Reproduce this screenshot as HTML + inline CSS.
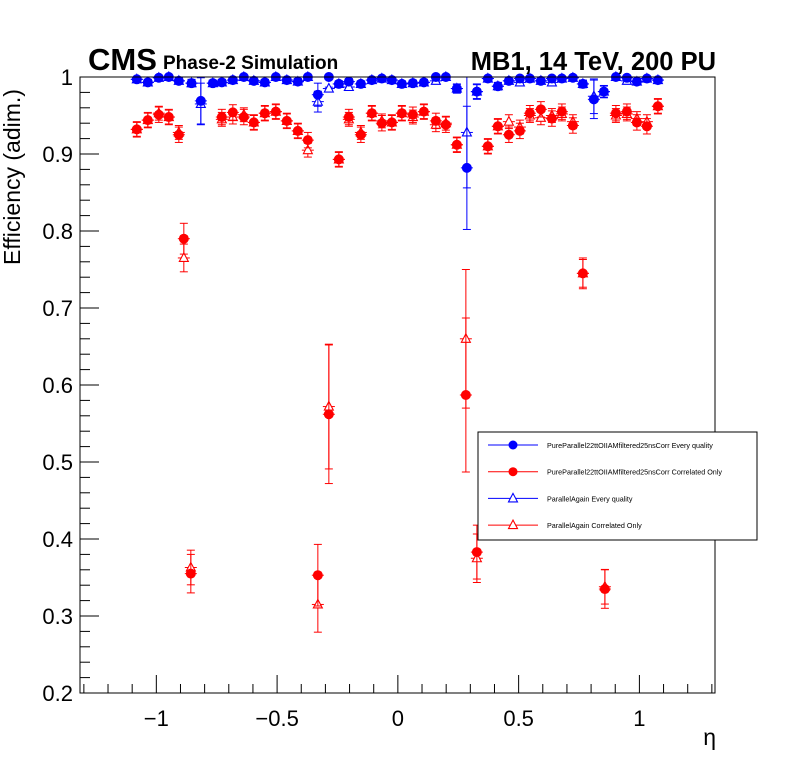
<!DOCTYPE html>
<html><head><meta charset="utf-8"><style>
html,body{margin:0;padding:0;background:#fff;}
svg{display:block;font-family:"Liberation Sans",Arial,sans-serif;}
</style></head><body>
<svg id="c" width="796" height="772" viewBox="0 0 796 772">
<rect x="0" y="0" width="796" height="772" fill="#fff"/>
<g id="grid"></g>
<g id="marks"></g>
<rect x="80" y="77" width="635" height="616" fill="none" stroke="#000" stroke-width="1"/>
<text x="88" y="70" font-size="31" font-weight="bold">CMS</text>
<text x="163" y="69" font-size="19" font-weight="bold">Phase-2 Simulation</text>
<text x="716" y="70" font-size="25.5" font-weight="bold" text-anchor="end">MB1, 14 TeV, 200 PU</text>
<text transform="translate(20,265) rotate(-90)" font-size="23">Efficiency (adim.)</text>
<text x="716" y="745" font-size="23" text-anchor="end">η</text>
<g>
<rect x="478" y="432" width="279" height="108" fill="#fff" stroke="#000" stroke-width="1"/>
<g id="leg"></g>
</g>
</svg>
<script>
const X0=80,X1=715,Y0=693,Y1=77,XMIN=-1.316,XMAX=1.313,YMIN=0.2,YMAX=1.0;
function sx(v){return X0+(v-XMIN)/(XMAX-XMIN)*(X1-X0);}
function sy(v){return Y0-(v-YMIN)/(YMAX-YMIN)*(Y0-Y1);}
function px(p){return (p-398)/241.5;}
const blueEtaPx=[137,148,159,169,179,191.7,201,213,222,233,244,254,265,276,287,298,308,318,329,339,349,361,372,382,392,402,413,424,436,446,457,467,477,488,498,509,520,530,541,552,562,573,583,594,604,616,627,637,647,658];
const blueEta=blueEtaPx.map(px);
const blueVal=[0.997,0.993,0.999,1.0,0.995,0.992,0.969,0.992,0.993,0.996,1.0,0.995,0.993,1.0,0.996,0.994,1.0,0.977,1.0,0.991,0.994,0.991,0.996,0.998,0.996,0.991,0.992,0.993,1.0,1.0,0.985,0.882,0.981,0.998,0.988,0.995,0.998,0.998,0.995,0.998,0.998,0.999,0.991,0.971,0.981,1.0,0.999,0.994,0.998,0.996];
const blueErr=[0.003,0.004,0.002,0.002,0.004,0.005,0.03,0.004,0.004,0.003,0.002,0.003,0.004,0.002,0.003,0.004,0.002,0.015,0.002,0.004,0.004,0.004,0.003,0.002,0.003,0.004,0.004,0.004,0.002,0.002,0.006,0.08,0.01,0.002,0.005,0.003,0.002,0.002,0.003,0.002,0.002,0.002,0.005,0.025,0.008,0.002,0.002,0.004,0.002,0.003];
const blueOpen=[0.997,0.993,0.999,1.0,0.995,0.992,0.965,0.992,0.993,0.996,1.0,0.995,0.993,1.0,0.996,0.994,1.0,0.968,0.985,0.991,0.987,0.991,0.996,0.998,0.996,0.991,0.992,0.993,0.995,1.0,0.985,0.928,0.981,0.998,0.988,0.995,0.993,0.998,0.995,0.993,0.998,0.999,0.991,0.975,0.981,1.0,0.995,0.994,0.998,0.996];
const redEtaPx=[137,148,159,169,179,184,191,222,233,244,254,265,276,287,298,308,318,329,339,349,361,372,382,392,402,413,424,436,446,457,466,477,488,498,509,520,530,541,552,562,573,583,605,616,627,637,647,658];
const redEta=redEtaPx.map(px);
const redVal=[0.932,0.944,0.951,0.948,0.925,0.790,0.355,0.948,0.954,0.948,0.941,0.953,0.955,0.943,0.930,0.918,0.353,0.562,0.893,0.948,0.925,0.953,0.940,0.941,0.953,0.951,0.955,0.943,0.938,0.912,0.587,0.383,0.910,0.936,0.925,0.930,0.953,0.958,0.946,0.955,0.937,0.745,0.335,0.953,0.955,0.941,0.936,0.962];
const redErr=[0.01,0.01,0.01,0.01,0.01,0.02,0.025,0.01,0.01,0.01,0.01,0.01,0.01,0.01,0.01,0.01,0.04,0.09,0.01,0.01,0.01,0.01,0.01,0.01,0.01,0.01,0.01,0.01,0.01,0.01,0.1,0.035,0.01,0.01,0.01,0.01,0.01,0.01,0.01,0.01,0.01,0.02,0.025,0.01,0.01,0.01,0.01,0.01];
const redOpen=[0.932,0.944,0.953,0.948,0.928,0.765,0.363,0.945,0.948,0.951,0.941,0.953,0.955,0.943,0.930,0.905,0.315,0.572,0.893,0.945,0.928,0.953,0.943,0.941,0.953,0.948,0.955,0.938,0.940,0.912,0.660,0.375,0.910,0.936,0.942,0.935,0.950,0.947,0.950,0.952,0.942,0.745,0.338,0.950,0.952,0.946,0.942,0.962];
const yTicks=[0.2,0.3,0.4,0.5,0.6,0.7,0.8,0.9,1];
const yTickLabels=["0.2","0.3","0.4","0.5","0.6","0.7","0.8","0.9","1"];
const xTicks=[-1,-0.5,0,0.5,1];
const xTickLabels=["\u22121","\u22120.5","0","0.5","1"];
const NS="http://www.w3.org/2000/svg";
function mk(tag,attrs,parent){const e=document.createElementNS(NS,tag);for(const k in attrs)e.setAttribute(k,attrs[k]);parent.appendChild(e);return e;}
const grid=document.getElementById('grid'),marks=document.getElementById('marks');
for(let v=0.2;v<=1.0001;v+=0.02){const y=sy(v);const major=Math.abs(v*10-Math.round(v*10))<1e-6;
 const t=mk('line',{x1:X0,x2:X0+(major?19:10),y1:y,y2:y,stroke:'#000','stroke-width':1},grid);
 
 }
yTicks.forEach((v,i)=>{const t=mk('text',{x:73,y:sy(v)+8,'font-size':22,'text-anchor':'end'},grid);t.textContent=yTickLabels[i];
 
 });
for(let k=-13;k<=13;k++){const v=k/10;const x=sx(v);if(x<X0||x>X1)continue;const major=k%5===0;
 const t=mk('line',{x1:x,x2:x,y1:Y0,y2:Y0-(major?18:9),stroke:'#000','stroke-width':1},grid);
 
 }
xTicks.forEach((v,i)=>{const t=mk('text',{x:sx(v),y:726,'font-size':22,'text-anchor':'middle'},grid);t.textContent=xTickLabels[i];
 
 });
function errbar(g,x,y,e,col){const yt=sy(Math.min(y+e,1.0)),yb=sy(y-e),cx=sx(x),c=sy(y);
 mk('line',{x1:cx,x2:cx,y1:yt,y2:yb,stroke:col,'stroke-width':1},g);
 mk('line',{x1:cx-4,x2:cx+4,y1:yt,y2:yt,stroke:col,'stroke-width':1},g);
 mk('line',{x1:cx-4,x2:cx+4,y1:yb,y2:yb,stroke:col,'stroke-width':1},g);
 mk('line',{x1:cx-6,x2:cx+6,y1:c,y2:c,stroke:col,'stroke-width':1},g);}
function tri(g,cx,cy,col){mk('polygon',{points:`${cx},${cy-5} ${cx-4.5},${cy+3.5} ${cx+4.5},${cy+3.5}`,fill:'#fff',stroke:col,'stroke-width':1.1},g);}
function series(eta,val,err,col,open,name){const g=mk('g',{},marks);
 
 
 eta.forEach((x,i)=>{errbar(g,x,val[i],err[i]*(open?0.9:1),col);
  if(open)tri(g,sx(x),sy(val[i]),col);
  else{const c=mk('circle',{cx:sx(x),cy:sy(val[i]),r:5,fill:col},g);
   
   }});}
series(redEta,redOpen,redErr,'#f00',true,'parallelagain-correlated-series');
series(blueEta,blueOpen,blueErr,'#00f',true,'parallelagain-every-series');
series(redEta,redVal,redErr,'#f00',false,'pureparallel-correlated-series');
series(blueEta,blueVal,blueErr,'#00f',false,'pureparallel-every-series');
const leg=document.getElementById('leg');
const legItems=[["PureParallel22ttOIIAMfiltered25nsCorr Every quality","#00f",false],["PureParallel22ttOIIAMfiltered25nsCorr Correlated Only","#f00",false],["ParallelAgain Every quality","#00f",true],["ParallelAgain Correlated Only","#f00",true]];
legItems.forEach((it,i)=>{const y=445+i*26.7;const g=mk('g',{},leg);
 
 
 mk('line',{x1:488,x2:538,y1:y,y2:y,stroke:it[1],'stroke-width':1},g);
 if(it[2])tri(g,513,y,it[1]);else mk('circle',{cx:513,cy:y,r:4.5,fill:it[1]},g);
 const t=mk('text',{x:547,y:y+3,'font-size':7.2},g);t.textContent=it[0];});
</script>
</body></html>
